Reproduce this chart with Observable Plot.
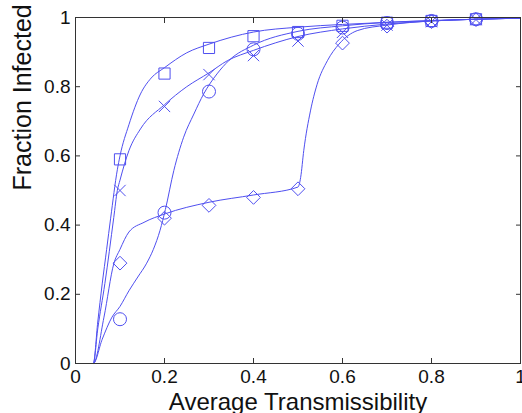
<!DOCTYPE html>
<html>
<head>
<meta charset="utf-8">
<script src="https://cdn.jsdelivr.net/npm/d3@7"></script>
<script src="https://cdn.jsdelivr.net/npm/@observablehq/plot@0.6"></script>
<style>
  html, body { margin: 0; padding: 0; background: #fff; }
</style>
</head>
<body>
<div id="chart"></div>
<script>
// Marker data (simulation points)
const markerX = [0.1, 0.2, 0.3, 0.4, 0.5, 0.6, 0.7, 0.8, 0.9];
const squareY  = [0.59, 0.838, 0.912, 0.946, 0.958, 0.976, 0.985, 0.990, 0.995];
const timesY   = [0.50, 0.743, 0.835, 0.890, 0.932, 0.957, 0.978, 0.988, 0.994];
const circleY  = [0.128, 0.436, 0.786, 0.908, 0.953, 0.971, 0.984, 0.990, 0.995];
const diamondY = [0.29, 0.42, 0.457, 0.480, 0.505, 0.926, 0.975, 0.988, 0.994];

// Theory curves
const squareCurveX = [0, 0.04, 0.05, 0.06, 0.07, 0.079, 0.094, 0.1, 0.12, 0.146, 0.17, 0.2, 0.25, 0.3, 0.4, 0.5, 0.6, 0.7, 0.8, 0.9, 1.0];
const squareCurveY = [0, 0, 0.12, 0.23, 0.33, 0.42, 0.56, 0.60, 0.69, 0.779, 0.825, 0.855, 0.898, 0.923, 0.958, 0.972, 0.980, 0.986, 0.991, 0.995, 0.998];

const timesCurveX = [0, 0.04, 0.05, 0.066, 0.086, 0.094, 0.1, 0.12, 0.146, 0.2, 0.25, 0.3, 0.341, 0.4, 0.5, 0.6, 0.7, 0.8, 0.9, 1.0];
const timesCurveY = [0, 0, 0.10, 0.231, 0.422, 0.50, 0.53, 0.615, 0.678, 0.748, 0.80, 0.840, 0.875, 0.905, 0.945, 0.967, 0.981, 0.990, 0.995, 0.998];

const circleCurveX = [0, 0.04, 0.06, 0.082, 0.1, 0.12, 0.14, 0.16, 0.175, 0.19, 0.202, 0.221, 0.243, 0.266, 0.288, 0.318, 0.345, 0.4, 0.5, 0.6, 0.7, 0.8, 0.9, 1.0];
const circleCurveY = [0, 0, 0.07, 0.134, 0.165, 0.21, 0.25, 0.29, 0.33, 0.385, 0.445, 0.558, 0.654, 0.721, 0.779, 0.837, 0.876, 0.92, 0.96, 0.976, 0.986, 0.991, 0.995, 0.998];

const diamondCurveX = [0, 0.04, 0.064, 0.086, 0.1, 0.12, 0.154, 0.2, 0.3, 0.4, 0.5, 0.506, 0.513, 0.528, 0.543, 0.566, 0.592, 0.633, 0.7, 0.8, 0.9, 1.0];
const diamondCurveY = [0, 0, 0.134, 0.288, 0.33, 0.38, 0.408, 0.432, 0.466, 0.487, 0.51, 0.538, 0.616, 0.73, 0.807, 0.875, 0.923, 0.962, 0.978, 0.990, 0.995, 0.998];

const xTicks = [0, 0.2, 0.4, 0.6, 0.8, 1];
const yTicks = [0, 0.2, 0.4, 0.6, 0.8, 1];
const xTickLabels = ["0", "0.2", "0.4", "0.6", "0.8", "1"];
const yTickLabels = ["0", "0.2", "0.4", "0.6", "0.8", "1"];
const xLabel = "Average Transmissibility";
const yLabel = "Fraction Infected";

const blue = "#4f4ff0";

function pts(xs, ys) { return xs.map((x, i) => ({x, y: ys[i]})); }

const curves = [
  pts(squareCurveX, squareCurveY),
  pts(timesCurveX, timesCurveY),
  pts(circleCurveX, circleCurveY),
  pts(diamondCurveX, diamondCurveY)
];
const markers = [
  {data: pts(markerX, squareY), symbol: "square", r: 6.3},
  {data: pts(markerX, timesY), symbol: "times", r: 5.2},
  {data: pts(markerX, circleY), symbol: "circle", r: 6.5},
  {data: pts(markerX, diamondY), symbol: "diamond2", r: 6.2}
];

const fmtX = d => xTickLabels[xTicks.indexOf(d)];
const fmtY = d => yTickLabels[yTicks.indexOf(d)];

const chart = Plot.plot({
  width: 522,
  height: 413,
  marginLeft: 75,
  marginRight: 2,
  marginTop: 17,
  marginBottom: 50,
  style: {fontFamily: "'Liberation Sans', Arial, Helvetica, sans-serif", background: "#fff", color: "#111"},
  x: {domain: [0, 1]},
  y: {domain: [0, 1]},
  marks: [
    ...curves.map(c => Plot.line(c, {x: "x", y: "y", stroke: blue, strokeWidth: 1, curve: "monotone-x"})),
    ...markers.map(m => Plot.dot(m.data, {x: "x", y: "y", symbol: m.symbol, r: m.r, stroke: blue, strokeWidth: 1, fill: "none"})),
    Plot.frame({stroke: "#333", strokeWidth: 1}),
    Plot.axisX({ticks: xTicks, tickFormat: fmtX, tickSize: -5, tickPadding: 11, fontSize: 19, label: null, stroke: "#333"}),
    Plot.axisX({anchor: "top", ticks: xTicks, tickFormat: () => "", tickSize: -5, label: null, stroke: "#333"}),
    Plot.axisY({ticks: yTicks, tickFormat: fmtY, tickSize: -5, tickPadding: 10, fontSize: 19, label: null, stroke: "#333"}),
    Plot.axisY({anchor: "right", ticks: yTicks, tickFormat: () => "", tickSize: -5, label: null, stroke: "#333"}),
    Plot.text([xLabel], {frameAnchor: "bottom", dy: 46, fontSize: 24, fill: "#111", lineAnchor: "bottom"}),
    Plot.text([yLabel], {frameAnchor: "left", dx: -45, rotate: -90, fontSize: 25, fill: "#111", lineAnchor: "bottom"})
  ]
});
document.getElementById("chart").appendChild(chart);
</script>
</body>
</html>
